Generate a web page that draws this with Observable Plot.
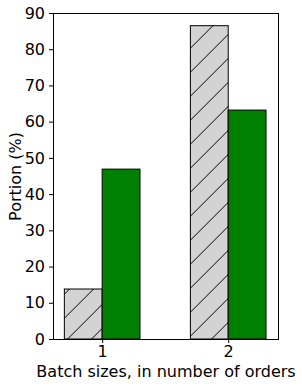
<!DOCTYPE html>
<html>
<head>
<meta charset="utf-8">
<script src="https://cdn.jsdelivr.net/npm/d3@7"></script>
<script src="https://cdn.jsdelivr.net/npm/@observablehq/plot@0.6"></script>
<style>
  html, body { margin: 0; padding: 0; background: #fff; }
  svg { display: block; }
</style>
</head>
<body>
<div id="chart"></div>
<script>
const categories = ["1", "2"];
const greyValues = [13.8, 86.5];
const greenValues = [46.9, 63.2];
const yTicks = [0, 10, 20, 30, 40, 50, 60, 70, 80, 90];
const xLabel = "Batch sizes, in number of orders";
const yLabel = "Portion (%)";
const barWidth = 0.3;

const greyBars = categories.map((c, i) => ({cat: c, x1: i - barWidth, x2: i, value: greyValues[i]}));
const greenBars = categories.map((c, i) => ({cat: c, x1: i, x2: i + barWidth, value: greenValues[i]}));

const font = "DejaVu Sans, sans-serif";

const svg = Plot.plot({
  width: 302,
  height: 387,
  marginLeft: 53,
  marginRight: 24,
  marginTop: 13,
  marginBottom: 48,
  style: {fontFamily: font, fontSize: "16px", color: "black", background: "white"},
  x: {type: "linear", domain: [-0.39, 1.395]},
  y: {domain: [0, 90]},
  marks: [
    Plot.rect(greyBars, {x1: "x1", x2: "x2", y1: 0, y2: "value", fill: "url(#hatch)", stroke: "black", strokeWidth: 1}),
    Plot.rect(greenBars, {x1: "x1", x2: "x2", y1: 0, y2: "value", fill: "#008000", stroke: "black", strokeWidth: 1}),
    Plot.frame({stroke: "black", strokeWidth: 1}),
    Plot.axisY(yTicks, {tickSize: 4, tickPadding: 4.5, fontSize: 16, label: null, stroke: "black"}),
    Plot.axisX([0, 1], {tickFormat: (d) => categories[d], tickSize: 4, tickPadding: 2, fontSize: 16, label: null, stroke: "black"}),
    Plot.text([yLabel], {frameAnchor: "left", rotate: -90, dx: -38, textAnchor: "middle", lineAnchor: "middle", fontSize: 16, fill: "black"}),
    Plot.text([xLabel], {frameAnchor: "bottom", dy: 32, textAnchor: "middle", lineAnchor: "middle", fontSize: 16, fill: "black"})
  ]
});

const ns = "http://www.w3.org/2000/svg";
const defs = document.createElementNS(ns, "defs");
const pat = document.createElementNS(ns, "pattern");
pat.setAttribute("id", "hatch");
pat.setAttribute("patternUnits", "userSpaceOnUse");
pat.setAttribute("x", "-1.4");
pat.setAttribute("y", "0");
pat.setAttribute("width", "24");
pat.setAttribute("height", "24");
const bg = document.createElementNS(ns, "rect");
bg.setAttribute("width", "24");
bg.setAttribute("height", "24");
bg.setAttribute("fill", "#d3d3d3");
pat.appendChild(bg);
[[0, 24, 24, 0], [-12, 12, 12, -12], [12, 36, 36, 12]].forEach(([x1, y1, x2, y2]) => {
  const l = document.createElementNS(ns, "line");
  l.setAttribute("x1", x1); l.setAttribute("y1", y1);
  l.setAttribute("x2", x2); l.setAttribute("y2", y2);
  l.setAttribute("stroke", "black");
  l.setAttribute("stroke-width", "1");
  pat.appendChild(l);
});
defs.appendChild(pat);
svg.insertBefore(defs, svg.firstChild);

document.getElementById("chart").appendChild(svg);
</script>
</body>
</html>
